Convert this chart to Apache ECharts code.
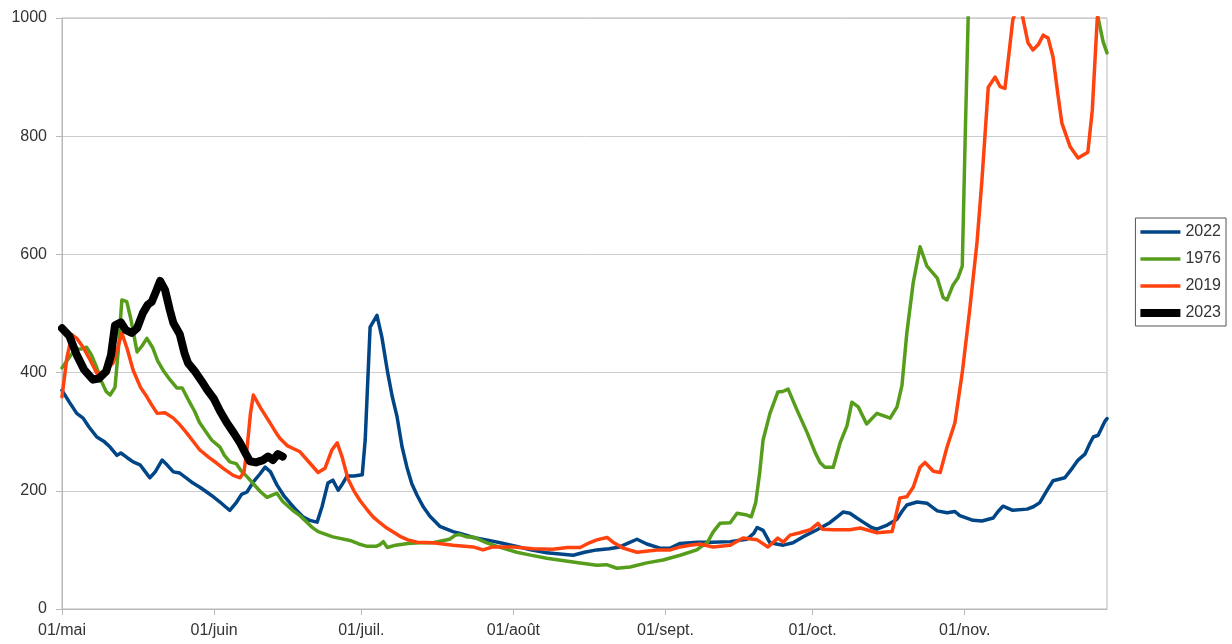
<!DOCTYPE html>
<html><head><meta charset="utf-8">
<script src="https://cdn.jsdelivr.net/npm/echarts@6/dist/echarts.min.js"></script>
<style>html,body{margin:0;padding:0;background:#fff}#c{width:1232px;height:644px}</style>
</head><body><div id="c"></div>
<script>
// x = day index from 01/mai (0) to 30/nov. (213)
const monthDays = [0, 31, 61, 92, 123, 153, 184];
const monthLabels = ['01/mai', '01/juin', '01/juil.', '01/août', '01/sept.', '01/oct.', '01/nov.'];

const s2022 = [[0,370],[1.5,350],[3,331],[4.3,323],[5.5,308],[7.1,291],[8.5,284],[9.8,274],[11.2,260],[12,264],[13.3,256],[14.5,249],[15.9,244],[17,232],[17.9,222],[19,232],[20.4,252],[21.4,244],[22.7,232],[24,230],[25.3,222],[26.7,213],[28.1,206],[29.5,198],[30.8,190],[32.2,181],[33.3,173],[34.2,167],[35.6,181],[36.6,194],[37.7,198],[39,215],[40.3,228],[41.4,240],[42.5,232],[43.8,210],[45.2,192],[46.5,179],[47.8,167],[49.1,156],[50.5,150],[52,147],[53,173],[54.2,213],[55.2,218],[56.3,201],[57.2,212],[58.1,225],[59.5,225],[61.2,227],[61.8,286],[62.8,477],[64.2,497],[65.2,460],[66.4,399],[67.3,360],[68.3,325],[69.3,275],[70.3,240],[71.3,212],[72.4,192],[73.7,172],[75,157],[77,140],[79.7,131],[81.5,127],[83.8,121],[86.5,117],[89.3,112],[92.7,106],[95.5,100],[98.8,95],[101.5,93],[104.2,91],[106.5,96],[109,100],[111.5,102],[113.7,105],[115.5,112],[117.2,118],[119.2,110],[121.9,103],[124,103],[126,111],[129.4,113],[132.7,113],[136.2,114],[139.6,118],[141,128],[141.7,138],[142.9,133],[144.3,112],[147,108],[149,112],[151,122],[153.9,134],[156.5,146],[158,156],[159.2,164],[160.6,162],[162,154],[163.3,147],[165,138],[166.1,135],[168.2,142],[170.2,152],[171.2,165],[172.2,176],[174.3,181],[176.3,179],[178.4,166],[180.4,163],[182,165],[183,158],[185.7,150],[187.5,149],[189.8,154],[190.8,165],[191.8,174],[193.8,167],[196.7,169],[198,173],[199.3,180],[200.8,201],[202,217],[204.4,222],[205.9,238],[207.1,252],[208.5,262],[209.5,280],[210.2,291],[211.2,294],[212.6,318],[213,322]];

const s1976 = [[0,408],[1,420],[2,432],[3,440],[4,440],[5,443],[6,430],[7,410],[8,386],[9,368],[9.8,362],[10.8,375],[11.5,440],[12.2,523],[13.2,520],[14,492],[15.3,435],[16.3,445],[17.3,458],[18.5,442],[19.5,420],[20.6,404],[22,388],[23.4,374],[24.5,374],[26,350],[27,335],[28,316],[29.5,298],[30.5,286],[32.2,274],[33.1,260],[34.2,249],[35.5,246],[36.5,234],[37.7,224],[39,212],[40.5,198],[41.8,189],[43.8,196],[45,182],[47,167],[48.5,158],[49.9,147],[51,138],[52.2,131],[55.2,122],[58.7,116],[60.5,110],[62.2,106],[64,106],[64.8,109],[65.5,114],[66.3,104],[68,108],[70.5,111],[73,112],[75.6,112],[79,118],[80.2,125],[81.1,126],[82.5,122],[83.8,122],[86.6,112],[89,105],[92.7,96],[95,92],[98.8,86],[102,82],[105.6,78],[109,74],[111,75],[113.1,69],[115.8,71],[119.2,78],[122.5,83],[126,91],[129.4,100],[130.5,107],[131.5,112],[132.7,130],[134.1,145],[136.2,146],[137.6,162],[139.6,159],[140.5,156],[141.4,180],[142.2,230],[142.9,286],[144.3,331],[145.9,367],[146.9,368],[148,372],[149.8,337],[151.9,298],[153.5,265],[154.5,248],[155.5,240],[157.2,240],[158.6,281],[160,310],[161,350],[162.3,342],[164,313],[166.1,331],[168.8,323],[170.2,342],[171.2,378],[172.2,467],[173.5,552],[174.9,613],[176.3,580],[178.4,560],[179.6,527],[180.4,523],[181.6,548],[182.6,560],[183.5,580],[184.1,800],[184.7,1000],[185.5,1250],[188,1400],[192,1500],[196,1450],[200,1400],[204,1300],[208,1150],[210.5,1030],[211.2,1000],[212.2,960],[213,941]];

const s2019 = [[0,359],[1,425],[2,464],[3,458],[4.3,443],[5.5,425],[7.1,399],[8.5,400],[10.4,416],[11.3,440],[12.2,467],[13.3,440],[14.5,404],[16,375],[17.3,359],[18.3,345],[19.4,331],[21,332],[22.7,323],[24,312],[25.4,298],[26.8,283],[28.1,269],[30,256],[31.5,247],[33,237],[34.9,226],[36.3,222],[37.1,232],[37.7,270],[38.4,330],[39,362],[40.5,340],[42.4,315],[43.5,300],[44.4,289],[46,276],[47,272],[48.5,266],[50.5,247],[52.2,231],[53.6,238],[55,269],[56.1,281],[57.1,257],[58.3,220],[59.5,200],[60.7,184],[62,170],[63.4,156],[64.8,146],[66.2,137],[68.9,123],[70.5,117],[72.4,113],[75.6,112],[79.7,108],[83.8,105],[85.8,100],[87.8,105],[92,105],[96,102],[100,101],[103,104],[105.6,104],[107.5,112],[109,117],[111.1,121],[112.3,113],[114.4,103],[117.2,96],[121.3,100],[124,100],[126,105],[128,108],[130,110],[132.7,105],[136.2,108],[138.8,120],[141.7,117],[143.9,105],[145.9,120],[147,113],[148.4,125],[150.4,129],[152.5,134],[154.1,145],[155,135],[157.2,134],[160.6,134],[162.7,137],[166.1,129],[169.2,131],[170.8,188],[172.2,190],[173.5,206],[174.9,240],[175.9,248],[177.6,233],[179,231],[180.4,274],[182,315],[183.5,400],[185,505],[186.5,620],[187.5,725],[188.8,883],[190.2,900],[191.2,884],[192.2,881],[192.8,924],[193.8,997],[194.6,1015],[195.6,1010],[196.9,958],[197.9,946],[199,955],[200,971],[201,966],[202,934],[203,870],[203.8,822],[205.5,782],[207.1,763],[209.1,773],[210,844],[211,997],[212,1080],[213,1150]];

const s2023 = [[0,475],[1.5,462],[3,430],[4.5,405],[6.3,388],[7.5,390],[9,402],[10,430],[10.8,480],[12,485],[13,472],[14.2,467],[15.3,475],[16.5,501],[17.5,515],[18.3,520],[19.2,538],[20,555],[21,540],[22,505],[22.7,484],[24,465],[25,432],[25.7,416],[27,403],[28.5,385],[29.5,372],[31,355],[32.2,335],[33.6,315],[35,298],[36.3,281],[37.3,265],[38.3,250],[39.5,248],[41,252],[42,258],[43,252],[44,262],[45,258]];

const names = ['2022', '1976', '2019', '2023'];
const colors = ['#004586', '#579d1c', '#ff420e', '#000000'];
const widths = [3.5, 3.5, 3.5, 8];
const seriesData = [s2022, s1976, s2019, s2023];

const font = '"Liberation Sans", Arial, sans-serif';
const fs = 16;

const chart = echarts.init(document.getElementById('c'), null, {renderer: 'canvas'});
chart.setOption({
  animation: false,
  textStyle: {fontFamily: font},
  grid: {left: 62, right: 125, top: 18, bottom: 35, show: true, borderColor: '#b8b8b8', borderWidth: 1},
  legend: {
    orient: 'vertical', right: 6, top: 218,
    data: names.map((n, i) => ({name: n, icon: i === 3 ? 'path://M0,0H40V8H0Z' : 'path://M0,0H40V3.5H0Z'})),
    itemWidth: 40, itemHeight: 12, itemGap: 11,
    padding: [6, 5, 5, 5],
    borderColor: '#555', borderWidth: 1, backgroundColor: '#fff',
    textStyle: {fontFamily: font, fontSize: fs, color: '#333'}
  },
  xAxis: {
    type: 'value', min: 0, max: 213,
    splitLine: {show: false},
    axisLine: {lineStyle: {color: '#b8b8b8'}},
    axisTick: {show: true, length: 6, lineStyle: {color: '#b8b8b8'}, customValues: monthDays},
    axisLabel: {
      customValues: monthDays, margin: 14, color: '#333', fontSize: fs, fontFamily: font,
      formatter: function (v) { const i = monthDays.indexOf(Math.round(v)); return i >= 0 ? monthLabels[i] : ''; }
    }
  },
  yAxis: {
    type: 'value', min: 0, max: 1000, interval: 200,
    axisLine: {show: true, lineStyle: {color: '#b8b8b8'}},
    axisTick: {show: true, length: 6, lineStyle: {color: '#b8b8b8'}},
    splitLine: {lineStyle: {color: '#cccccc'}},
    axisLabel: {
      margin: 15, color: '#333', fontSize: fs, fontFamily: font,
      formatter: function (v) { return String(v); }
    }
  },
  series: names.map((n, i) => ({
    name: n, type: 'line', data: seriesData[i], showSymbol: false, symbol: 'none',
    clip: true, z: i === 3 ? 5 : 2,
    lineStyle: {color: colors[i], width: widths[i], cap: 'round', join: 'round'},
    itemStyle: {color: colors[i]}
  }))
});
</script></body></html>
